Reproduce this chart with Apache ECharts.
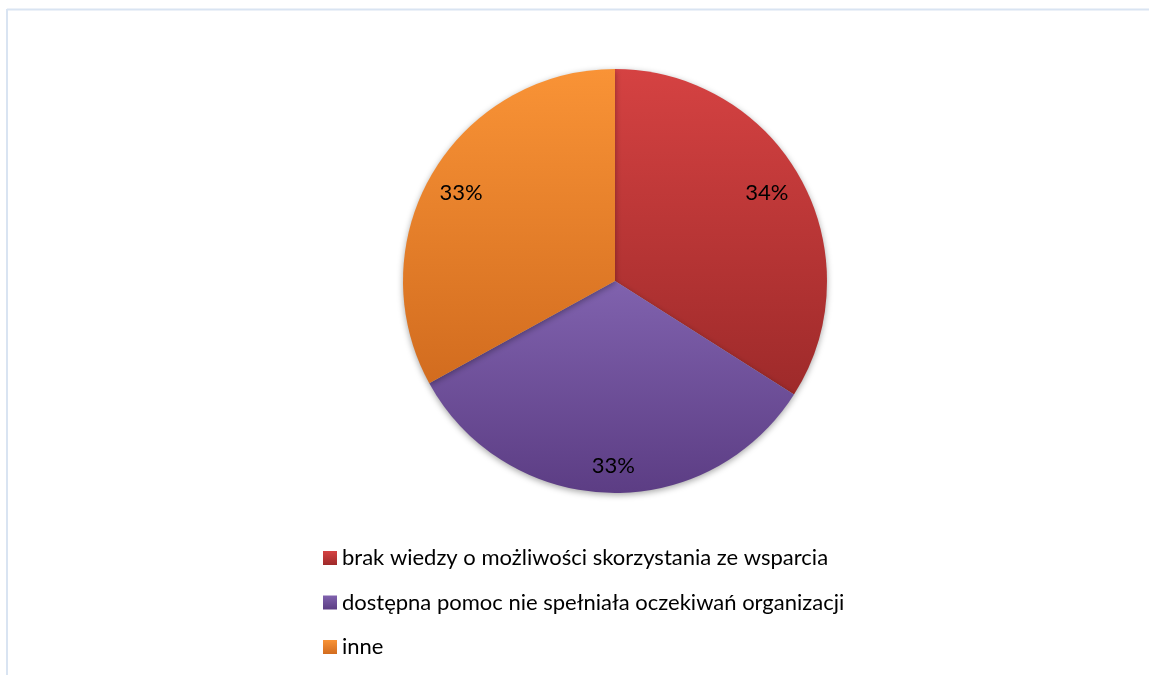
<!DOCTYPE html>
<html><head><meta charset="utf-8">
<script src="https://cdn.jsdelivr.net/npm/echarts@6/dist/echarts.min.js"></script>
<style>html,body{margin:0;padding:0;background:#fff}#c{width:1149px;height:675px}</style>
</head><body><div id="c"></div>
<script>
const categories = ['brak wiedzy o możliwości skorzystania ze wsparcia','dostępna pomoc nie spełniała oczekiwań organizacji','inne'];
const values = [34, 33, 33];
const labels = ['34%','33%','33%'];
const topColors = ['#d54242','#8062ae','#f99336'];
const bottomColors = ['#9e2a2a','#5c3d84','#d26c1f'];

const FONT = 'Lato, "Noto Sans", sans-serif';
const center = [615, 281];
const R = 212;
const labelNudge = [[-5,-2],[4,6],[0,3]];

const chart = echarts.init(document.getElementById('c'), null, {renderer:'canvas'});
const mainData = categories.map((n,i)=>({
  name:n, value:values[i],
  itemStyle:{color:new echarts.graphic.LinearGradient(0,0,0,1,[{offset:0,color:topColors[i]},{offset:1,color:bottomColors[i]}])}
}));
const labelData = categories.map((n,i)=>({name:n, value:values[i], label:{formatter:labels[i]}}));

chart.setOption({
  animation:false,
  backgroundColor:'#fff',
  graphic:[
    {type:'line', shape:{x1:7,y1:9.5,x2:1149,y2:9.5}, style:{stroke:'#d9e4f2', lineWidth:2}, silent:true},
    {type:'line', shape:{x1:7,y1:9,x2:7,y2:675}, style:{stroke:'#d9e4f2', lineWidth:2}, silent:true}
  ],
  legend:{
    orient:'vertical', left:318, top:542,
    itemWidth:14, itemHeight:14, itemGap:22.5,
    icon:'rect',
    textStyle:{fontFamily:FONT, fontSize:22, color:'#000'},
    data:categories
  },
  series:[
    {
      type:'pie', center:center, radius:[0,R], startAngle:90, clockwise:true,
      label:{show:false}, labelLine:{show:false},
      itemStyle:{shadowBlur:6, shadowColor:'rgba(0,0,0,0.35)', shadowOffsetY:2},
      emphasis:{disabled:true},
      data:mainData
    },
    {
      type:'pie', center:center, radius:[R*0.66,R], startAngle:90, clockwise:true, silent:true,
      itemStyle:{color:'rgba(0,0,0,0)'},
      label:{show:true, position:'inside', fontFamily:FONT, fontSize:22, color:'#000'},
      labelLine:{show:false},
      labelLayout:function(p){ const d = labelNudge[p.dataIndex]; return {dx:d[0], dy:d[1]}; },
      emphasis:{disabled:true},
      data:labelData
    }
  ]
});
</script></body></html>
